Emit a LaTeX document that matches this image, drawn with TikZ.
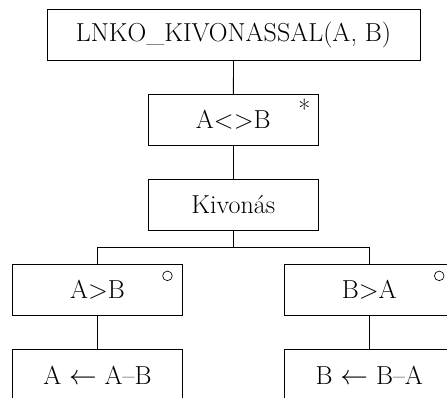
\documentclass[tikz,border=0pt]{standalone}
\usetikzlibrary{positioning}

\begin{document}
\begin{tikzpicture}[x=0.75pt,y=-0.75pt,line width=0.6pt,
  box/.style={draw,minimum width=127.5pt,minimum height=38.2pt,inner sep=0pt,
    font=\fontsize{19.5}{23}\selectfont},
  star/.style={inner sep=0pt,font=\fontsize{19.5}{23}\selectfont},
  ring/.style={draw,circle,line width=0.5pt,minimum size=7.2pt,inner sep=0pt}]
\useasboundingbox (0,0) rectangle (447,397);

% struktogram
\node[box,minimum width=279.75pt] (fn) at (233.5,34.7) {LNKO\_KIVONASSAL(A, B)};
\node[box] (loop) at (233.3,119.7) {A<>B};
\node[box] (seq) at (233.3,204.5) {Kivonás};
\node[box] (condA) at (97.5,290) {A>B};
\node[box] (condB) at (369.3,290) {B>A};
\node[box] (stepA) at (97.5,375) {A $\leftarrow$ A--B};
\node[box] (stepB) at (369.3,375) {B $\leftarrow$ B--A};

\node[star,anchor=north east] (loopmark) at ([xshift=-6pt,yshift=-3.75pt]loop.north east) {*};
\node[ring] (markA) at ([xshift=-11.6pt,yshift=-8.8pt]condA.north east) {};
\node[ring] (markB) at ([xshift=-11.6pt,yshift=-8.8pt]condB.north east) {};

\draw (fn) -- (loop);
\draw (loop) -- (seq);
\draw (seq.south) -- ++(0,17) coordinate (fork);
\draw (fork) -| (condA.north);
\draw (fork) -| (condB.north);
\draw (condA) -- (stepA);
\draw (condB) -- (stepB);

\end{tikzpicture}
\end{document}
